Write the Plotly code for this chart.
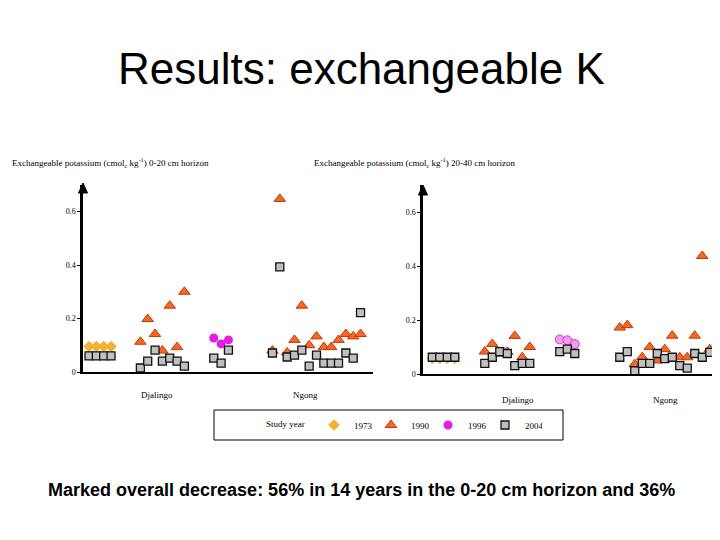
import plotly.graph_objects as go

W, H = 720, 540

# ---- data (sample slot index along each panel, value in cmolc/kg) ----
years = ["1973", "1990", "1996", "2004"]

# 0-20 cm horizon
L_1973_x = [0, 1, 2, 3]
L_1973_y = [0.095, 0.095, 0.095, 0.095]
L_1990_x = [7, 8, 9, 10, 11, 12, 13,
            25, 26, 27, 28, 29, 30, 31, 32, 33, 34, 35, 36, 37]
L_1990_y = [0.113, 0.198, 0.142, 0.080, 0.248, 0.093, 0.300,
            0.080, 0.647, 0.073, 0.120, 0.248, 0.100, 0.133, 0.093, 0.093, 0.120, 0.142, 0.133, 0.142]
L_1996_x = [17, 18, 19]
L_1996_y = [0.127, 0.105, 0.120]
L_2004_x = [0, 1, 2, 3, 7, 8, 9, 10, 11, 12, 13, 17, 18, 19,
            25, 26, 27, 28, 29, 30, 31, 32, 33, 34, 35, 36, 37]
L_2004_y = [0.060, 0.060, 0.060, 0.060,
            0.015, 0.041, 0.082, 0.041, 0.052, 0.041, 0.022,
            0.052, 0.033, 0.082,
            0.071, 0.393, 0.056, 0.063, 0.082, 0.022, 0.063, 0.033, 0.033, 0.033, 0.071, 0.052, 0.222]

# 20-40 cm horizon
R_1973_x = [0, 1, 2, 3]
R_1973_y = [0.058, 0.058, 0.058, 0.058]
R_1990_x = [7, 8, 9, 10, 11, 12, 13,
            25, 26, 27, 28, 29, 30, 31, 32, 33, 34, 35, 36, 37]
R_1990_y = [0.083, 0.111, 0.075, 0.082, 0.141, 0.062, 0.100,
            0.172, 0.181, 0.036, 0.062, 0.100, 0.050, 0.092, 0.142, 0.062, 0.062, 0.142, 0.437, 0.092]
R_1996_x = [17, 18, 19]
R_1996_y = [0.128, 0.125, 0.111]
R_2004_x = [0, 1, 2, 3, 7, 8, 9, 10, 11, 12, 13, 17, 18, 19,
            25, 26, 27, 28, 29, 30, 31, 32, 33, 34, 35, 36, 37]
R_2004_y = [0.062, 0.062, 0.062, 0.062,
            0.039, 0.062, 0.083, 0.076, 0.031, 0.039, 0.039,
            0.083, 0.092, 0.076,
            0.062, 0.083, 0.012, 0.039, 0.039, 0.076, 0.057, 0.062, 0.031, 0.022, 0.076, 0.062, 0.080]

site_labels = ["Djalingo", "Ngong"]
y_ticks = [0, 0.2, 0.4, 0.6]
y_tick_text = ["0", "0.2", "0.4", "0.6"]

# ---- helpers: page pixel -> paper fraction (page body has an 8px margin) ----
OFF = 8

def px(x):
    return (x - OFF) / W

def py(y):
    return (H - (y - OFF)) / H

SERIF = "Liberation Serif"

styles = {
    "1973": dict(symbol="diamond", size=9, color="#F2B233", line=dict(color="#F2B233", width=0)),
    "1990": dict(symbol="triangle-up", size=10, color="#F26A1B", line=dict(color="#C8360E", width=1)),
    "1996": dict(symbol="circle", size=9, color="#E21FE0", line=dict(color="#E21FE0", width=0)),
    "2004": dict(symbol="square", size=8, color="#C0C0C0", line=dict(color="#111111", width=1.3)),
}
styles_right = dict(styles)
styles_right["1996"] = dict(symbol="circle", size=9, color="#F59AF0", line=dict(color="#D040C8", width=1))

fig = go.Figure()

left = {"1973": (L_1973_x, L_1973_y), "1990": (L_1990_x, L_1990_y),
        "1996": (L_1996_x, L_1996_y), "2004": (L_2004_x, L_2004_y)}
right = {"1973": (R_1973_x, R_1973_y), "1990": (R_1990_x, R_1990_y),
         "1996": (R_1996_x, R_1996_y), "2004": (R_2004_x, R_2004_y)}

for yr in years:
    xs, ys = left[yr]
    fig.add_trace(go.Scatter(x=xs, y=ys, mode="markers", name=yr, legendgroup=yr,
                             marker=styles[yr], xaxis="x", yaxis="y", cliponaxis=False,
                             showlegend=True))
for yr in years:
    xs, ys = right[yr]
    fig.add_trace(go.Scatter(x=xs, y=ys, mode="markers", name=yr, legendgroup=yr,
                             marker=styles_right[yr], xaxis="x2", yaxis="y2", cliponaxis=False,
                             showlegend=False))

yax_common = dict(range=[0, 0.70], showgrid=False, zeroline=False, showline=True,
                  linecolor="black", linewidth=2.5, ticks="outside", ticklen=3,
                  tickcolor="black", tickwidth=1, tickvals=y_ticks, ticktext=y_tick_text,
                  tickfont=dict(family=SERIF, size=8, color="black"), fixedrange=True)
xax_common = dict(showgrid=False, zeroline=False, showline=True, linecolor="black",
                  linewidth=1.5, showticklabels=False, ticks="", fixedrange=True)

fig.update_layout(
    width=W, height=H,
    margin=dict(l=0, r=0, t=0, b=0, autoexpand=False),
    paper_bgcolor="white", plot_bgcolor="white",
    xaxis=dict(domain=[px(83), px(373)], range=[-0.82, 38.7], anchor="y", **xax_common),
    yaxis=dict(domain=[py(372), py(184.75)], anchor="x", **yax_common),
    xaxis2=dict(domain=[px(423), px(718)], range=[-1.24, 38.1], anchor="y2", **xax_common),
    yaxis2=dict(domain=[py(374), py(185)], anchor="x2", **yax_common),
    showlegend=True,
    legend=dict(orientation="h", x=px(314), y=py(425), xanchor="left", yanchor="middle",
                font=dict(family=SERIF, size=9, color="black"),
                entrywidth=12, entrywidthmode="pixels", itemwidth=30,
                bgcolor="rgba(0,0,0,0)", borderwidth=0),
)

def note(x, y, text, size=9, family=SERIF, xanchor="center"):
    return dict(x=px(x), y=py(y), xref="paper", yref="paper", text=text, showarrow=False,
                xanchor=xanchor, yanchor="middle", font=dict(family=family, size=size, color="black"))

annos = [
    note(10, 162, "Exchangeable potassium (cmol<sub>c</sub> kg<sup>-1</sup>) 0-20 cm horizon", xanchor="left"),
    note(312, 162, "Exchangeable potassium (cmol<sub>c</sub> kg<sup>-1</sup>) 20-40 cm horizon", xanchor="left"),
    note(157, 395, site_labels[0]),
    note(305, 395, site_labels[1]),
    note(518, 400, site_labels[0]),
    note(665, 400, site_labels[1]),
    note(285, 424, "Study year"),
    note(361, 68, "Results: exchangeable K", size=44, family="Liberation Sans"),
    note(361, 490, "<b>Marked overall decrease: 56% in 14 years in the 0-20 cm horizon and 36%</b>",
         size=18, family="Liberation Sans Narrow, Liberation Sans"),
]
fig.update_layout(annotations=annos)

# legend box
fig.add_shape(type="rect", xref="paper", yref="paper", x0=px(214), x1=px(563), y0=py(440), y1=py(410),
              line=dict(color="black", width=1), fillcolor="rgba(0,0,0,0)")
# arrowheads on top of the y axes
for ax_x, tip in [(83, 183), (423, 185)]:
    fig.add_shape(type="path", xref="paper", yref="paper",
                  path=f"M {px(ax_x - 4.5)} {py(tip + 10)} L {px(ax_x + 4.5)} {py(tip + 10)} L {px(ax_x)} {py(tip)} Z",
                  fillcolor="black", line=dict(color="black", width=1))

fig.write_html("out.html")
